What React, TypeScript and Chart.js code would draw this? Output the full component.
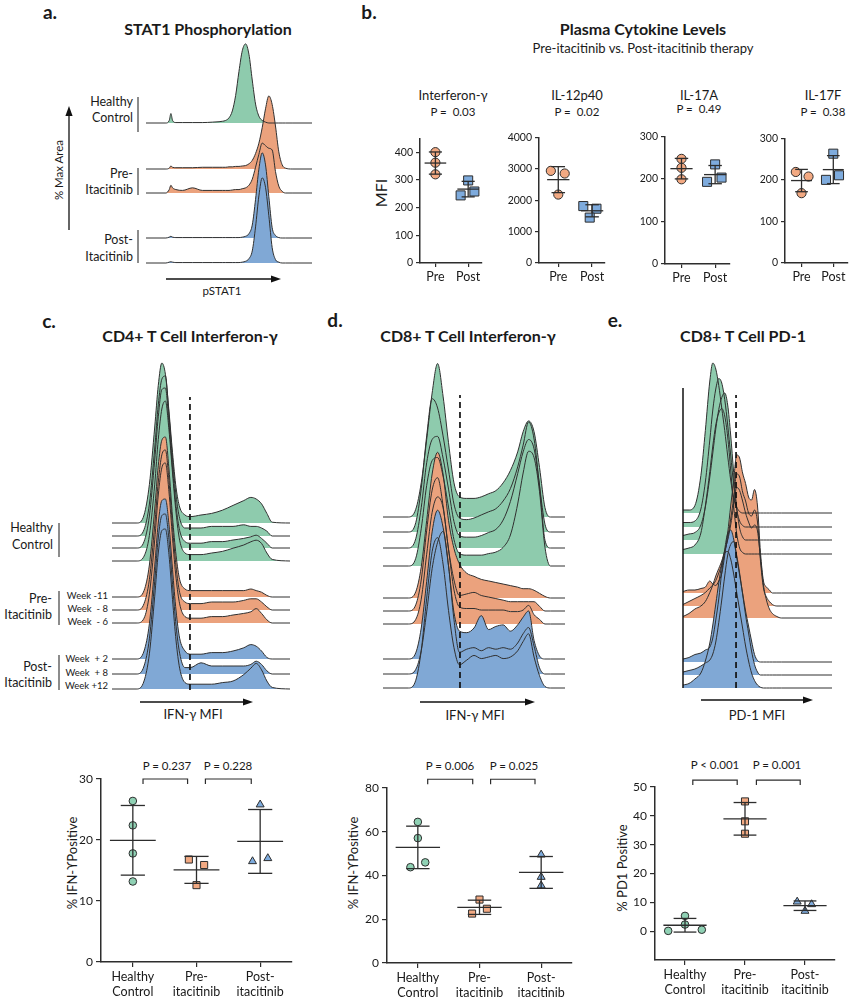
import React, { useEffect, useRef } from 'react';
import { Chart, registerables } from 'chart.js';

Chart.register(...registerables);

const FONT = 'Lato, "Open Sans", "Noto Sans", sans-serif';
Chart.defaults.font.family = FONT;

const INK = '#2d2d2d';
const FILL_GREEN = '#8ecbad';
const FILL_ORANGE = '#eba27d';
const FILL_BLUE = '#80a8d5';
const DOT_GREEN = '#8fd1b4';
const DOT_ORANGE = '#f2a982';
const DOT_BLUE = '#7eabdd';

// ---------- Panel a: STAT1 phosphorylation (% of max) ----------
const statGrid = [0, 12, 14, 15, 16, 18, 22, 28, 34, 40, 44, 46, 48, 50, 52, 54, 56, 58, 60, 62, 64, 66, 68, 70, 72, 74, 76, 78, 80, 82, 84, 88, 100];
const statHealthy = [0, 0, 3, 11, 3, 0.5, 0.5, 0.5, 0.5, 1, 1.5, 2, 3, 6, 14, 32, 60, 84, 92, 80, 50, 22, 8, 3, 1, 0, 0, 0, 0, 0, 0, 0, 0];
const statPre1 = [0, 0, 1, 3.5, 2, 1.5, 1.5, 1.5, 2, 2, 2, 2, 2, 2.5, 2.5, 3, 3, 3.5, 4, 6, 10, 18, 30, 48, 70, 85, 75, 50, 20, 5, 1, 0, 0];
const statPre2 = [0, 0, 4, 9, 6, 4, 3, 6, 3, 3, 3, 3, 3, 3, 3.5, 4, 4, 5, 6, 9, 16, 30, 45, 58, 55, 52, 50, 25, 8, 2, 0, 0, 0];
const statPost1 = [0, 0, 1, 2, 1, 0.5, 0.5, 0.5, 0.5, 0.5, 0.5, 0.5, 0.5, 0.5, 0.5, 0.5, 0.5, 1, 2, 5, 15, 45, 80, 99, 85, 48, 12, 3, 0.5, 0, 0, 0, 0];
const statPost2 = [0, 0, 1, 1.5, 1, 0.5, 0.5, 0.5, 0.5, 0.5, 0.5, 0.5, 0.5, 0.5, 0.5, 0.5, 0.5, 1, 2, 5, 14, 42, 78, 99, 88, 55, 18, 4, 1, 0, 0, 0, 0];

// ---------- Panel b: plasma cytokines ----------
const cytoCategories = ['Pre', 'Post'];
const ifnPre = [400, 362, 320];
const ifnPreJitter = [0, 0, 0];
const ifnPost = [298, 244, 258];
const ifnPostJitter = [0, -0.23, 0.19];
const ifnTicks = [0, 100, 200, 300, 400];
const il12Pre = [2932, 2848, 2178];
const il12PreJitter = [-0.22, 0.19, 0];
const il12Post = [1812, 1728, 1445];
const il12PostJitter = [-0.26, 0.13, -0.07];
const il12Ticks = [0, 1000, 2000, 3000, 4000];
const il17aPre = [247, 226, 199];
const il17aPreJitter = [0, 0, 0];
const il17aPost = [234, 193, 203];
const il17aPostJitter = [0, -0.24, 0.19];
const il17aTicks = [0, 100, 200, 300];
const il17fPre = [219, 208, 168];
const il17fPreJitter = [-0.18, 0.22, 0];
const il17fPost = [263, 200, 211];
const il17fPostJitter = [0, -0.23, 0.18];
const il17fTicks = [0, 100, 200, 300];

// ---------- Panel c: CD4 IFN-g histograms (% of max) ----------
const cd4Grid = [0, 14, 18, 21, 24, 26, 28, 30, 32, 34, 36, 38, 41, 44, 50, 56, 62, 68, 74, 78, 81, 84, 87, 90, 100];
const cd4Hc1 = [0, 0, 5, 24, 60, 86, 100, 93, 70, 44, 22, 10, 5, 4, 5, 6, 8, 11, 14, 16, 15, 12, 6, 0.5, 0];
const cd4Hc2 = [0, 0, 4, 20, 55, 82, 98, 100, 76, 48, 25, 11, 5, 5, 5, 6, 6, 6, 7, 6, 6, 5, 3, 0, 0];
const cd4Hc3 = [0, 0, 4, 20, 55, 82, 99, 100, 78, 50, 26, 11, 4, 3, 3, 4, 4, 5, 6, 7, 8, 6, 3, 0, 0];
const cd4Hc4 = [0, 0, 3, 16, 48, 76, 95, 100, 82, 55, 30, 13, 5, 4, 4, 5, 6, 8, 10, 12, 13, 11, 5, 1, 0];
const cd4Pre1 = [0, 0, 4, 20, 55, 82, 98, 100, 80, 50, 26, 11, 5, 4, 4, 4, 4, 4, 4, 5, 4, 3, 1, 0, 0];
const cd4Pre2 = [0, 0, 4, 19, 53, 80, 97, 100, 81, 52, 27, 11, 5, 4, 4, 5, 5, 5, 6, 7, 7, 5, 2, 0, 0];
const cd4Pre3 = [0, 0, 3, 18, 52, 80, 97, 100, 82, 53, 28, 12, 4, 3, 3, 4, 4, 5, 6, 7, 9, 6, 2, 0, 0];
const cd4Post1 = [0, 0, 5, 22, 58, 85, 99, 100, 84, 56, 30, 13, 5, 3, 3, 4, 4, 5, 7, 9, 8, 5, 1, 0, 0];
const cd4Post2 = [0, 0, 5, 22, 58, 85, 99, 100, 84, 56, 30, 13, 4, 4, 7, 5, 5, 5, 5, 6, 8, 6, 2, 0, 0];
const cd4Post3 = [0, 0, 5, 22, 58, 85, 99, 100, 84, 56, 30, 13, 4, 3, 3, 3, 4, 5, 9, 13, 16, 12, 5, 1, 0];
const cd4Gate = 43.8;

// ---------- Panel d: CD8 IFN-g histograms ----------
const cd8Grid = [0, 14, 18, 21, 24, 27, 30, 33, 36, 39, 42, 46, 50, 54, 58, 62, 66, 70, 74, 77, 80, 83, 86, 89, 92, 100];
const cd8Hc1 = [0, 0, 5, 22, 50, 80, 99, 78, 48, 22, 13, 12, 12, 13, 15, 17, 22, 30, 42, 55, 62, 55, 32, 6, 0, 0];
const cd8Hc2 = [0, 0, 6, 28, 62, 86, 80, 62, 40, 18, 9, 8, 9, 11, 13, 15, 20, 28, 42, 56, 71, 60, 30, 5, 0, 0];
const cd8Hc3 = [0, 0, 6, 26, 55, 70, 72, 58, 38, 17, 8, 7, 7, 8, 10, 12, 18, 30, 48, 62, 70, 64, 40, 5, 0, 0];
const cd8Hc4 = [0, 0, 5, 24, 52, 68, 70, 58, 38, 17, 8, 7, 7, 7, 8, 9, 12, 20, 40, 60, 74, 70, 48, 12, 0, 0];
const cd8Pre1 = [0, 0, 4, 20, 50, 80, 94, 80, 50, 32, 22, 16, 14, 12, 11, 10, 9, 8, 7, 6, 6, 5, 3, 1, 0, 0];
const cd8Pre2 = [0, 0, 4, 20, 52, 78, 86, 68, 40, 20, 10, 11, 12, 10, 9, 8, 7, 6, 6, 6, 6, 6, 3, 0, 0, 0];
const cd8Pre3 = [0, 0, 3, 16, 45, 72, 82, 75, 48, 22, 11, 10, 10, 9, 9, 9, 9, 8, 8, 9, 12, 6, 3, 0, 0, 0];
const cd8Post1 = [0, 0, 4, 20, 50, 82, 96, 85, 60, 30, 18, 17, 20, 28, 19, 21, 22, 18, 22, 27, 31, 12, 2, 0, 0, 0];
const cd8Post2 = [0, 0, 3, 15, 40, 68, 85, 92, 70, 35, 14, 16, 17, 15, 17, 16, 17, 16, 20, 26, 30, 18, 4, 0, 0, 0];
const cd8Post3 = [0, 0, 5, 24, 58, 88, 97, 80, 50, 26, 15, 18, 21, 19, 20, 21, 19, 20, 24, 30, 35, 20, 8, 1, 0, 0];
const cd8Gate = 42.3;

// ---------- Panel e: CD8 PD-1 histograms ----------
const pd1Grid = [0, 4, 8, 12, 15, 18, 20, 22, 24, 26, 28, 30, 32, 34, 36, 38, 40, 42, 44, 46, 48, 50, 52, 54, 56, 58, 60, 63, 66, 100];
const pd1Hc1 = [2, 2, 5, 25, 55, 88, 100, 96, 85, 70, 55, 38, 22, 10, 4, 1, 0, 0, 0, 0, 0, 0, 0, 0, 0, 0, 0, 0, 0, 0];
const pd1Hc2 = [3, 3, 4, 12, 30, 58, 78, 92, 99, 96, 85, 68, 48, 28, 12, 4, 1, 0, 0, 0, 0, 0, 0, 0, 0, 0, 0, 0, 0, 0];
const pd1Hc3 = [3, 4, 5, 10, 22, 42, 58, 74, 87, 95, 98, 90, 70, 45, 22, 8, 2, 0, 0, 0, 0, 0, 0, 0, 0, 0, 0, 0, 0, 0];
const pd1Hc4 = [3, 4, 6, 14, 32, 55, 72, 86, 94, 97, 92, 78, 56, 32, 14, 4, 1, 0, 0, 0, 0, 0, 0, 0, 0, 0, 0, 0, 0, 0];
const pd1Pre1 = [1, 2, 2, 3, 4, 8, 6, 5, 8, 13, 25, 40, 58, 75, 92, 90, 80, 73, 64, 62, 69, 58, 27, 8, 4, 2, 0, 0, 0, 0];
const pd1Pre2 = [1, 3, 5, 7, 9, 12, 14, 17, 22, 28, 36, 45, 58, 72, 88, 86, 76, 70, 62, 60, 64, 56, 30, 12, 6, 3, 1, 0, 0, 0];
const pd1Pre3 = [1, 3, 6, 8, 11, 17, 22, 28, 33, 38, 45, 52, 62, 75, 87, 85, 78, 70, 64, 60, 62, 58, 40, 22, 12, 6, 3, 1, 0, 0];
const pd1Post1 = [2, 3, 5, 6, 8, 10, 16, 28, 42, 60, 75, 86, 88, 82, 70, 58, 46, 34, 24, 14, 5, 1, 0, 0, 0, 0, 0, 0, 0, 0];
const pd1Post2 = [2, 3, 4, 6, 8, 10, 14, 22, 35, 50, 66, 80, 87, 89, 80, 68, 54, 40, 28, 16, 7, 2, 0, 0, 0, 0, 0, 0, 0, 0];
const pd1Post3 = [2, 3, 6, 10, 18, 30, 42, 56, 70, 82, 90, 91, 86, 76, 64, 52, 40, 28, 18, 10, 5, 2, 0.5, 0, 0, 0, 0, 0, 0, 0];
const pd1Gate = 35.6;

// ---------- Bottom dot plots ----------
const groupLabels = [['Healthy', 'Control'], ['Pre-', 'itacitinib'], ['Post-', 'itacitinib']];
const cd4Healthy = [26.4, 22.4, 17.8, 13.2];
const cd4HealthyJitter = [0, 0, 0, 0];
const cd4Pre = [16.8, 15.9, 12.6];
const cd4PreJitter = [-0.12, 0.12, 0];
const cd4Post = [25.8, 16.5, 17.0];
const cd4PostJitter = [0, -0.12, 0.12];
const cd4Ticks = [0, 10, 20, 30];
const cd4PValues = ['P = 0.237', 'P = 0.228'];

const cd8Healthy = [64.5, 57.1, 46.0, 43.8];
const cd8HealthyJitter = [0, 0, 0.12, -0.12];
const cd8Pre = [29.0, 24.8, 22.6];
const cd8PreJitter = [0, 0.12, -0.12];
const cd8Post = [49.5, 39.3, 35.4];
const cd8PostJitter = [0, 0, 0];
const cd8Ticks = [0, 20, 40, 60, 80];
const cd8PValues = ['P = 0.006', 'P = 0.025'];

const pd1Healthy = [0.1, 2.3, 5.3, 0.5];
const pd1HealthyJitter = [-0.28, 0, 0, 0.28];
const pd1Pre = [45.0, 38.1, 33.8];
const pd1PreJitter = [0, 0, 0];
const pd1Post = [10.2, 9.3, 7.0];
const pd1PostJitter = [-0.13, 0.11, 0];
const pd1Ticks = [0, 10, 20, 30, 40, 50];
const pd1PValues = ['P < 0.001', 'P = 0.001'];

// ================= components =================
function RidgeChart(props: any) {
  const ref = useRef<HTMLCanvasElement>(null);
  const P = 4;
  const { left, top, width, height } = props;
  useEffect(() => {
    const { grid, ridges, scale, gate, leftAxis } = props;
    const bottom = top + height;
    const ds: any[] = [];
    if (gate) {
      ds.push({
        data: [{ x: gate.x, y: bottom - gate.y0 }, { x: gate.x, y: bottom - gate.y1 }],
        borderColor: '#111', borderWidth: 1.7, borderDash: [6, 4], pointRadius: 0, fill: false, clip: false,
      });
    }
    if (leftAxis) {
      ds.push({
        data: [{ x: 0, y: bottom - leftAxis.y0 }, { x: 0, y: bottom - leftAxis.y1 }],
        borderColor: '#111', borderWidth: 1.5, pointRadius: 0, fill: false, clip: false,
      });
    }
    ridges.slice().sort((a: any, b: any) => b.base - a.base).forEach((r: any) => {
      const off = bottom - r.base;
      ds.push({
        data: grid.map((x: number, i: number) => ({ x, y: off + (r.values[i] * scale) / 100 })),
        borderColor: '#303030', borderWidth: 1, pointRadius: 0,
        backgroundColor: r.color, fill: { value: off }, cubicInterpolationMode: 'monotone',
      });
    });
    const chart = new Chart(ref.current as HTMLCanvasElement, {
      type: 'line',
      data: { datasets: ds },
      options: {
        responsive: false, animation: false, devicePixelRatio: 1, events: [],
        layout: { padding: P },
        plugins: { legend: { display: false }, tooltip: { enabled: false }, filler: { drawTime: 'beforeDatasetsDraw' } } as any,
        scales: {
          x: { type: 'linear', min: 0, max: 100, display: false },
          y: { type: 'linear', min: 0, max: height, display: false },
        },
      },
    } as any);
    return () => chart.destroy();
  }, []);
  return (
    <canvas ref={ref} width={width + 2 * P} height={height + 2 * P}
      style={{ position: 'absolute', left: left - P, top: top - P, width: width + 2 * P, height: height + 2 * P }} />
  );
}

function DotPlot(props: any) {
  const ref = useRef<HTMLCanvasElement>(null);
  const { area, yw, xh, padTop, padRight } = props;
  const cw = yw + (area.right - area.left) + padRight;
  const ch = padTop + (area.bottom - area.top) + xh;
  useEffect(() => {
    const { yMin, yMax, yTicks, xMin, xMax, xLabels, groups, brackets, tickSize, labelSize, meanHalf, capHalf, tickLen } = props;
    const ds: any[] = [];
    const seg = (x0: number, y0: number, x1: number, y1: number) => ({
      data: [{ x: x0, y: y0 }, { x: x1, y: y1 }], showLine: true, borderColor: INK, borderWidth: 1.3,
      pointRadius: 0, clip: false,
    });
    groups.forEach((g: any, i: number) => {
      const n = g.values.length;
      const m = g.values.reduce((a: number, b: number) => a + b, 0) / n;
      const sd = Math.sqrt(g.values.reduce((a: number, b: number) => a + (b - m) * (b - m), 0) / (n - 1));
      ds.push(seg(i - meanHalf, m, i + meanHalf, m));
      ds.push(seg(i - capHalf, m + sd, i + capHalf, m + sd));
      ds.push(seg(i - capHalf, m - sd, i + capHalf, m - sd));
      ds.push(seg(i, m - sd, i, m + sd));
    });
    groups.forEach((g: any, i: number) => {
      ds.push({
        data: g.values.map((v: number, j: number) => ({ x: i + g.jitter[j], y: v })),
        pointStyle: g.shape, pointRadius: g.r, pointBackgroundColor: g.color,
        pointBorderColor: INK, pointBorderWidth: 1, showLine: false, clip: false,
      });
    });
    (brackets || []).forEach((b: any) => {
      ds.push({
        data: [{ x: b.x0, y: b.y - b.drop }, { x: b.x0, y: b.y }, { x: b.x1, y: b.y }, { x: b.x1, y: b.y - b.drop }],
        showLine: true, borderColor: INK, borderWidth: 1.2, pointRadius: 0, clip: false,
      });
    });
    const axisGrid = { display: true, drawOnChartArea: false, drawTicks: true, tickLength: tickLen, color: INK, lineWidth: 1.2 };
    const axisBorder = { display: true, color: INK, width: 1.5 };
    const chart = new Chart(ref.current as HTMLCanvasElement, {
      type: 'scatter',
      data: { datasets: ds },
      options: {
        responsive: false, animation: false, devicePixelRatio: 1, events: [],
        layout: { padding: { top: padTop, right: padRight, left: 0, bottom: 0 } },
        plugins: { legend: { display: false }, tooltip: { enabled: false } },
        scales: {
          x: {
            type: 'linear', min: xMin, max: xMax,
            afterBuildTicks: (s: any) => { s.ticks = xLabels.map((_: any, i: number) => ({ value: i })); },
            afterFit: (s: any) => { s.height = xh; },
            ticks: {
              autoSkip: false, maxRotation: 0, minRotation: 0, padding: 2, color: '#1a1a1a',
              font: { family: FONT, size: labelSize, lineHeight: 1.22 },
              callback: (v: any) => xLabels[Math.round(Number(v))],
            },
            grid: axisGrid, border: axisBorder,
          },
          y: {
            type: 'linear', min: yMin, max: yMax,
            afterBuildTicks: (s: any) => { s.ticks = yTicks.map((v: number) => ({ value: v })); },
            afterFit: (s: any) => { s.width = yw; },
            ticks: { padding: 3, color: '#1a1a1a', font: { family: FONT, size: tickSize }, callback: (v: any) => String(v) },
            grid: axisGrid, border: axisBorder,
          },
        },
      },
    } as any);
    return () => chart.destroy();
  }, []);
  return (
    <canvas ref={ref} width={cw} height={ch}
      style={{ position: 'absolute', left: area.left - yw, top: area.top - padTop, width: cw, height: ch }} />
  );
}

function Txt({ x, y, s, size = 12, bold = false, anchor = 'middle', rot = 0 }: any) {
  const tx = anchor === 'middle' ? '-50%' : anchor === 'end' ? '-100%' : '0%';
  return (
    <div style={{
      position: 'absolute', left: x, top: y, whiteSpace: 'pre', lineHeight: 1,
      fontFamily: FONT, fontSize: size, fontWeight: bold ? 700 : 400, color: '#1a1a1a',
      transform: `translate(${tx}, -50%)${rot ? ` rotate(${rot}deg)` : ''}`,
    }}>{s}</div>
  );
}

function Arrow({ x1, y1, x2, y2 }: any) {
  const ang = Math.atan2(y2 - y1, x2 - x1);
  const L = 10, Wd = 3.6;
  const bx = x2 - L * Math.cos(ang), by = y2 - L * Math.sin(ang);
  const px = -Math.sin(ang) * Wd, py = Math.cos(ang) * Wd;
  return (
    <g>
      <line x1={x1} y1={y1} x2={bx} y2={by} stroke="#111" strokeWidth={1.3} />
      <polygon points={`${x2},${y2} ${bx + px},${by + py} ${bx - px},${by - py}`} fill="#111" />
    </g>
  );
}

function Bar({ x, y0, y1 }: any) {
  return <line x1={x} y1={y0} x2={x} y2={y1} stroke="#666" strokeWidth={1.5} />;
}

export default function App() {
  const cytoCommon = {
    xLabels: cytoCategories, yw: 36, xh: 26, padTop: 8, padRight: 5, yMin: 0,
    tickSize: 10.5, labelSize: 12.5, meanHalf: 0.33, capHalf: 0.2, tickLen: 4,
  };
  const cytoGroups = (pre: number[], preJ: number[], post: number[], postJ: number[]) => [
    { values: pre, jitter: preJ, shape: 'circle', color: DOT_ORANGE, r: 4.6 },
    { values: post, jitter: postJ, shape: 'rect', color: DOT_BLUE, r: 6.4 },
  ];
  const dotCommon = {
    xLabels: groupLabels, xMin: -0.5, xMax: 2.5, yw: 40, padTop: 22, padRight: 10,
    tickSize: 12, labelSize: 12.5, meanHalf: 0.36, capHalf: 0.19, tickLen: 5,
  };
  const triGroups = (h: number[], hj: number[], p: number[], pj: number[], q: number[], qj: number[]) => [
    { values: h, jitter: hj, shape: 'circle', color: DOT_GREEN, r: 3.8 },
    { values: p, jitter: pj, shape: 'rect', color: DOT_ORANGE, r: 5 },
    { values: q, jitter: qj, shape: 'triangle', color: DOT_BLUE, r: 4.6 },
  ];
  const TITLE = 16;
  const PV = 11.5;

  return (
    <div style={{ position: 'absolute', left: 0, top: 0, width: 859, height: 1000, background: '#fff', overflow: 'hidden' }}>
      <svg width={859} height={1000} style={{ position: 'absolute', left: 0, top: 0 }}>
        <Arrow x1={69} y1={230} x2={69} y2={106} />
        <Arrow x1={166} y1={279} x2={281} y2={279} />
        <Bar x={138} y0={97} y1={132} />
        <Bar x={138} y0={168} y1={195} />
        <Bar x={138} y0={230} y1={263} />
        <Bar x={59} y0={523} y1={557} />
        <Bar x={59} y0={591} y1={625} />
        <Bar x={59} y0={655} y1={690} />
        <Arrow x1={140} y1={702} x2={253} y2={702} />
        <Arrow x1={420} y1={702} x2={535} y2={702} />
        <Arrow x1={701} y1={700} x2={813} y2={700} />
      </svg>

      {/* Panel a */}
      <Txt x={50} y={11} s="a." size={19} bold />
      <Txt x={208} y={29} s="STAT1 Phosphorylation" size={TITLE} bold />
      <Txt x={133} y={102} s="Healthy" size={12.5} anchor="end" />
      <Txt x={133} y={118} s="Control" size={12.5} anchor="end" />
      <Txt x={133} y={174} s="Pre-" size={12.5} anchor="end" />
      <Txt x={133} y={190} s="Itacitinib" size={12.5} anchor="end" />
      <Txt x={133} y={240} s="Post-" size={12.5} anchor="end" />
      <Txt x={133} y={257} s="Itacitinib" size={12.5} anchor="end" />
      <Txt x={59} y={170} s="% Max Area" size={11.5} rot={-90} />
      <Txt x={222} y={291} s="pSTAT1" size={11.5} />
      <RidgeChart left={146} top={40} width={166} height={226} grid={statGrid} scale={86}
        ridges={[
          { values: statHealthy, base: 123, color: FILL_GREEN },
          { values: statPre1, base: 169, color: FILL_ORANGE },
          { values: statPre2, base: 193, color: FILL_ORANGE },
          { values: statPost1, base: 238, color: FILL_BLUE },
          { values: statPost2, base: 263, color: FILL_BLUE },
        ]} />

      {/* Panel b */}
      <Txt x={369} y={11} s="b." size={19} bold />
      <Txt x={643} y={29} s="Plasma Cytokine Levels" size={TITLE} bold />
      <Txt x={643} y={48} s="Pre-itacitinib vs. Post-itacitinib therapy" size={13} />
      <Txt x={453} y={95} s="Interferon-γ" size={13} />
      <Txt x={453} y={112} s="P =  0.03" size={11.5} />
      <Txt x={577} y={95} s="IL-12p40" size={13} />
      <Txt x={577} y={112} s="P =  0.02" size={11.5} />
      <Txt x={699} y={95} s="IL-17A" size={13} />
      <Txt x={699} y={109} s="P =  0.49" size={11.5} />
      <Txt x={823} y={95} s="IL-17F" size={13} />
      <Txt x={823} y={112} s="P =  0.38" size={11.5} />
      <Txt x={381} y={193} s="MFI" size={16} rot={-90} />
      <DotPlot {...cytoCommon} area={{ left: 420, right: 484, top: 137, bottom: 263 }} yMax={450} yTicks={ifnTicks}
        xMin={-0.47} xMax={1.41} groups={cytoGroups(ifnPre, ifnPreJitter, ifnPost, ifnPostJitter)} />
      <DotPlot {...cytoCommon} yw={40} area={{ left: 539, right: 607, top: 136, bottom: 263 }} yMax={4000} yTicks={il12Ticks}
        xMin={-0.57} xMax={1.37} groups={cytoGroups(il12Pre, il12PreJitter, il12Post, il12PostJitter)} />
      <DotPlot {...cytoCommon} area={{ left: 665, right: 732, top: 135, bottom: 264 }} yMax={300} yTicks={il17aTicks}
        xMin={-0.49} xMax={1.43} groups={cytoGroups(il17aPre, il17aPreJitter, il17aPost, il17aPostJitter)} />
      <DotPlot {...cytoCommon} area={{ left: 785, right: 850, top: 137, bottom: 263 }} yMax={300} yTicks={il17fTicks}
        xMin={-0.52} xMax={1.45} groups={cytoGroups(il17fPre, il17fPreJitter, il17fPost, il17fPostJitter)} />

      {/* Panel c */}
      <Txt x={49} y={320} s="c." size={19} bold />
      <Txt x={190} y={336} s="CD4+ T Cell Interferon-γ" size={TITLE} bold />
      <Txt x={53} y={528} s="Healthy" size={12.5} anchor="end" />
      <Txt x={53} y={545} s="Control" size={12.5} anchor="end" />
      <Txt x={52} y={599} s="Pre-" size={12.5} anchor="end" />
      <Txt x={52} y={615} s="Itacitinib" size={12.5} anchor="end" />
      <Txt x={52} y={667} s="Post-" size={12.5} anchor="end" />
      <Txt x={52} y={683} s="Itacitinib" size={12.5} anchor="end" />
      <Txt x={108} y={596} s="Week -11" size={9.5} anchor="end" />
      <Txt x={108} y={609} s="Week  - 8" size={9.5} anchor="end" />
      <Txt x={108} y={622} s="Week  - 6" size={9.5} anchor="end" />
      <Txt x={108} y={659} s="Week  + 2" size={9.5} anchor="end" />
      <Txt x={108} y={673} s="Week  + 8" size={9.5} anchor="end" />
      <Txt x={108} y={686} s="Week +12" size={9.5} anchor="end" />
      <Txt x={193} y={714} s="IFN-γ MFI" size={13} />
      <RidgeChart left={112} top={355} width={178} height={337} grid={cd4Grid} scale={160}
        gate={{ x: cd4Gate, y0: 690, y1: 397 }}
        ridges={[
          { values: cd4Hc1, base: 523, color: FILL_GREEN },
          { values: cd4Hc2, base: 536, color: FILL_GREEN },
          { values: cd4Hc3, base: 548, color: FILL_GREEN },
          { values: cd4Hc4, base: 561, color: FILL_GREEN },
          { values: cd4Pre1, base: 597, color: FILL_ORANGE },
          { values: cd4Pre2, base: 610, color: FILL_ORANGE },
          { values: cd4Pre3, base: 623, color: FILL_ORANGE },
          { values: cd4Post1, base: 659, color: FILL_BLUE },
          { values: cd4Post2, base: 674, color: FILL_BLUE },
          { values: cd4Post3, base: 689, color: FILL_BLUE },
        ]} />
      <Txt x={167} y={766} s={cd4PValues[0]} size={PV} />
      <Txt x={228} y={766} s={cd4PValues[1]} size={PV} />
      <Txt x={72} y={863} s="% IFN-ϒPositive" size={13} rot={-90} />
      <DotPlot {...dotCommon} area={{ left: 101, right: 292, top: 779, bottom: 962 }} xh={38} yMin={0} yMax={30} yTicks={cd4Ticks}
        groups={triGroups(cd4Healthy, cd4HealthyJitter, cd4Pre, cd4PreJitter, cd4Post, cd4PostJitter)}
        brackets={[{ x0: 0.16, x1: 0.86, y: 30, drop: 0.8 }, { x0: 1.14, x1: 1.86, y: 30, drop: 0.8 }]} />

      {/* Panel d */}
      <Txt x={335} y={319} s="d." size={19} bold />
      <Txt x={468} y={336} s="CD8+ T Cell Interferon-γ" size={TITLE} bold />
      <Txt x={475} y={715} s="IFN-γ MFI" size={13} />
      <RidgeChart left={383} top={355} width={182} height={337} grid={cd8Grid} scale={155}
        gate={{ x: cd8Gate, y0: 688, y1: 395 }}
        ridges={[
          { values: cd8Hc1, base: 517, color: FILL_GREEN },
          { values: cd8Hc2, base: 532, color: FILL_GREEN },
          { values: cd8Hc3, base: 548, color: FILL_GREEN },
          { values: cd8Hc4, base: 566, color: FILL_GREEN },
          { values: cd8Pre1, base: 598, color: FILL_ORANGE },
          { values: cd8Pre2, base: 611, color: FILL_ORANGE },
          { values: cd8Pre3, base: 624, color: FILL_ORANGE },
          { values: cd8Post1, base: 659, color: FILL_BLUE },
          { values: cd8Post2, base: 674, color: FILL_BLUE },
          { values: cd8Post3, base: 688, color: FILL_BLUE },
        ]} />
      <Txt x={450} y={766} s={cd8PValues[0]} size={PV} />
      <Txt x={514} y={766} s={cd8PValues[1]} size={PV} />
      <Txt x={353} y={863} s="% IFN-ϒPositive" size={13} rot={-90} />
      <DotPlot {...dotCommon} area={{ left: 387, right: 572, top: 788, bottom: 963 }} xh={37} yMin={0} yMax={80} yTicks={cd8Ticks}
        groups={triGroups(cd8Healthy, cd8HealthyJitter, cd8Pre, cd8PreJitter, cd8Post, cd8PostJitter)}
        brackets={[{ x0: 0.16, x1: 0.89, y: 84, drop: 2.3 }, { x0: 1.18, x1: 1.9, y: 84, drop: 2.3 }]} />

      {/* Panel e */}
      <Txt x={615} y={319} s="e." size={19} bold />
      <Txt x={743} y={336} s="CD8+ T Cell PD-1" size={TITLE} bold />
      <Txt x={757} y={715} s="PD-1 MFI" size={13} />
      <RidgeChart left={683} top={355} width={149} height={337} grid={pd1Grid} scale={150}
        gate={{ x: pd1Gate, y0: 688, y1: 395 }} leftAxis={{ y0: 688, y1: 388 }}
        ridges={[
          { values: pd1Hc1, base: 513, color: FILL_GREEN },
          { values: pd1Hc2, base: 527, color: FILL_GREEN },
          { values: pd1Hc3, base: 540, color: FILL_GREEN },
          { values: pd1Hc4, base: 554, color: FILL_GREEN },
          { values: pd1Pre1, base: 593, color: FILL_ORANGE },
          { values: pd1Pre2, base: 606, color: FILL_ORANGE },
          { values: pd1Pre3, base: 618, color: FILL_ORANGE },
          { values: pd1Post1, base: 662, color: FILL_BLUE },
          { values: pd1Post2, base: 675, color: FILL_BLUE },
          { values: pd1Post3, base: 688, color: FILL_BLUE },
        ]} />
      <Txt x={715} y={765} s={pd1PValues[0]} size={PV} />
      <Txt x={777} y={765} s={pd1PValues[1]} size={PV} />
      <Txt x={622} y={868} s="% PD1 Positive" size={13} rot={-90} />
      <DotPlot {...dotCommon} area={{ left: 655, right: 835, top: 787, bottom: 960 }} xh={40} yMin={-10} yMax={50} yTicks={pd1Ticks}
        groups={triGroups(pd1Healthy, pd1HealthyJitter, pd1Pre, pd1PreJitter, pd1Post, pd1PostJitter)}
        brackets={[{ x0: 0.13, x1: 0.87, y: 52.4, drop: 1.7 }, { x0: 1.19, x1: 1.92, y: 52.4, drop: 1.7 }]} />
    </div>
  );
}
